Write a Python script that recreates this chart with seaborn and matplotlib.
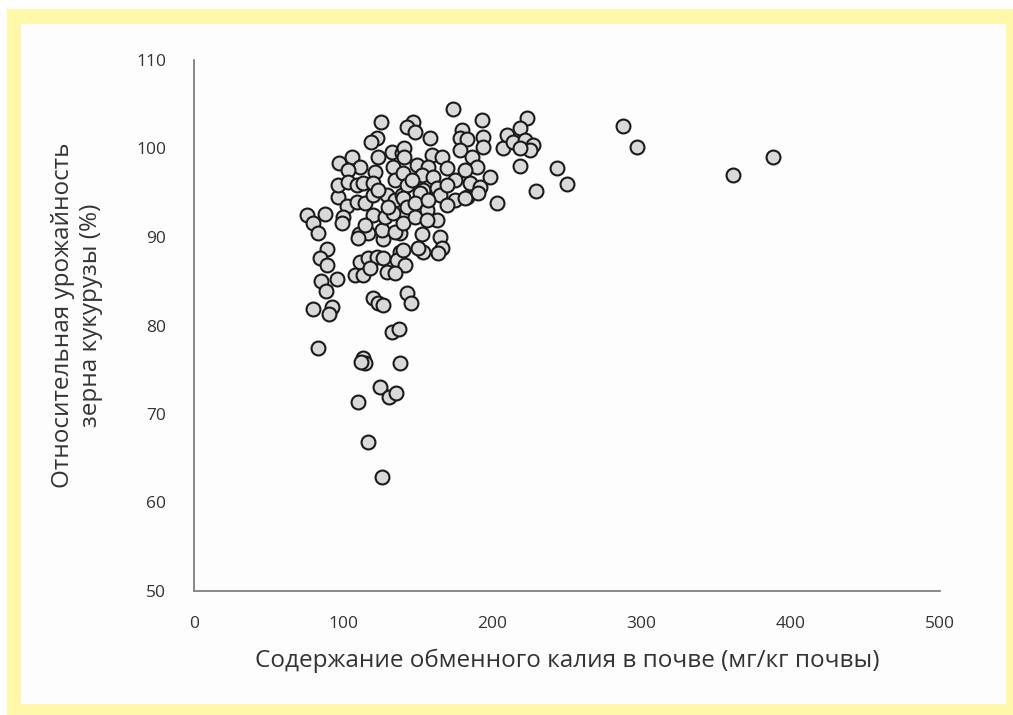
import matplotlib
matplotlib.use("Agg")
import matplotlib.pyplot as plt
from matplotlib.patches import Rectangle
import seaborn as sns
import pandas as pd

potassium = [
    75.7, 87.8, 79.8, 83.1, 89.1, 84.5, 89.1, 85.1, 95.8, 88.5, 79.8, 92.5, 90.5, 83.1,
    113.3, 114.6, 111.9, 138.1, 124.7, 130.7, 135.4, 109.9, 116.6, 126.0, 132.7, 137.4,
    120.0, 123.3, 126.7, 142.8, 145.4,
    110.6, 116.6, 126.7, 138.1, 152.8, 164.9, 166.2, 163.5, 153.5, 150.1, 138.1, 111.3,
    116.6, 122.7, 126.7, 107.9, 113.3, 118.0, 129.4, 136.1, 141.4, 109.9, 126.0, 134.7,
    134.7, 140.1,
    96.5, 102.5, 109.2, 114.6, 120.0, 129.4, 134.7, 139.4, 99.9, 99.2, 120.0, 128.0, 133.4,
    97.2, 105.9, 111.3, 103.2, 123.3, 132.7, 121.3, 133.4, 139.4, 134.7, 96.5, 103.2, 109.2,
    113.3, 120.0, 123.3, 125.3, 122.7, 118.6,
    173.6, 193.0, 146.8, 142.8, 148.1, 158.2, 179.6, 178.3, 183.0, 193.7, 193.7, 207.1, 209.8,
    140.8, 140.8, 159.5, 166.2, 178.3, 186.3, 189.7, 149.5, 156.8, 169.6, 181.6, 140.1, 152.8,
    160.2, 174.9, 185.0, 191.7, 198.4, 142.8, 153.5, 162.9, 140.1, 151.5, 164.9, 174.9, 183.0,
    190.3, 203.1, 142.8, 148.1, 140.1, 148.1, 156.2, 169.6, 162.9, 156.2, 181.6,
    223.2, 218.5, 213.8, 221.8, 227.2, 225.2, 218.5, 218.5, 243.3, 250.0, 229.2,
    287.5, 296.9, 361.3, 388.1,
    130.0, 146.1, 156.8, 169.6, 114.6,
]
yield_pct = [
    92.5, 92.6, 91.6, 90.5, 88.6, 87.6, 86.8, 85.0, 85.3, 83.9, 81.9, 82.1, 81.3, 77.5,
    76.3, 75.8, 75.9, 75.8, 73.1, 71.9, 72.4, 71.4, 66.8, 62.9, 79.3, 79.6,
    83.1, 82.5, 82.3, 83.7, 82.5,
    90.3, 90.5, 89.8, 90.5, 90.3, 90.0, 88.8, 88.2, 88.3, 88.8, 88.3, 87.2,
    87.6, 87.7, 87.6, 85.7, 85.7, 86.5, 86.0, 87.4, 86.8, 89.9, 90.8, 90.6,
    85.9, 88.5,
    94.5, 93.5, 94.0, 93.8, 94.7, 94.7, 94.2, 94.7, 92.3, 91.6, 92.5, 92.3, 92.7,
    98.4, 99.0, 97.9, 97.6, 99.0, 99.6, 97.3, 97.9, 99.5, 96.4, 95.9, 96.2, 95.9,
    96.1, 96.1, 95.3, 103.0, 101.2, 100.7,
    104.5, 103.2, 103.0, 102.4, 101.9, 101.2, 102.1, 101.2, 101.1, 101.3, 100.2, 100.1, 101.5,
    100.1, 99.0, 99.3, 99.0, 99.8, 99.0, 97.9, 98.1, 97.9, 97.8, 97.6, 97.2, 97.0,
    96.8, 96.4, 96.1, 95.6, 96.8, 95.9, 95.3, 95.5, 94.4, 95.0, 94.7, 94.2, 94.5,
    95.0, 93.8, 93.4, 93.8, 91.6, 92.3, 93.1, 93.6, 91.9, 91.9, 94.4,
    103.4, 102.3, 100.7, 101.0, 100.4, 99.8, 100.1, 98.0, 97.8, 96.0, 95.2,
    102.5, 100.2, 97.0, 99.0,
    93.4, 96.4, 94.2, 95.9, 91.4,
]

x_ticks = [0, 100, 200, 300, 400, 500]
y_ticks = [50, 60, 70, 80, 90, 100, 110]
x_label = "Содержание обменного калия в почве (мг/кг почвы)"
y_label = "Относительная урожайность\nзерна кукурузы (%)"

df = pd.DataFrame({"K": potassium, "Y": yield_pct})

sns.set_theme(style="white")
plt.rcParams["font.family"] = ["Open Sans", "DejaVu Sans"]

fig = plt.figure(figsize=(10.13, 7.15), dpi=100)
fig.patch.set_facecolor("white")
# yellow frame
fig.patches.append(Rectangle((7 / 1013, 0), 1.0, 1 - 9 / 715, transform=fig.transFigure,
                             facecolor="#fff8aa", edgecolor="none", zorder=-10))
fig.patches.append(Rectangle((21 / 1013, 11 / 715), (1006 - 21) / 1013, (704 - 24) / 715,
                             transform=fig.transFigure, facecolor="#fdfdfd",
                             edgecolor="none", zorder=-9))

ax = fig.add_axes([194 / 1013, 1 - 591 / 715, (940 - 194) / 1013, (591 - 60) / 715])
ax.set_facecolor("none")

sns.scatterplot(data=df, x="K", y="Y", ax=ax, s=100, color="#d9d9d9",
                edgecolor="#1a1a1a", linewidth=1.5, zorder=3, clip_on=False)

ax.set_xlim(0, 500)
ax.set_ylim(50, 110)
ax.set_xticks(x_ticks)
ax.set_yticks(y_ticks)
ax.set_xticklabels([str(v) for v in x_ticks])
ax.set_yticklabels([str(v) for v in y_ticks])
for s in ["top", "right"]:
    ax.spines[s].set_visible(False)
for s in ["left", "bottom"]:
    ax.spines[s].set_color("#7f7f7f")
    ax.spines[s].set_linewidth(1.3)
ax.tick_params(axis="both", which="major", direction="out", length=6, width=1.2,
               color="#7f7f7f", labelsize=12.5, labelcolor="#333333")
ax.tick_params(axis="y", pad=14)
ax.tick_params(axis="x", pad=12)
ax.grid(False)

ax.set_xlabel(x_label, fontsize=17.5, color="#333333", labelpad=12)
ax.set_ylabel(y_label, fontsize=17.5, color="#333333", linespacing=1.2)
ax.yaxis.set_label_coords(-0.122, 0.52)

fig.savefig("out.png", dpi=100, facecolor=fig.get_facecolor())
